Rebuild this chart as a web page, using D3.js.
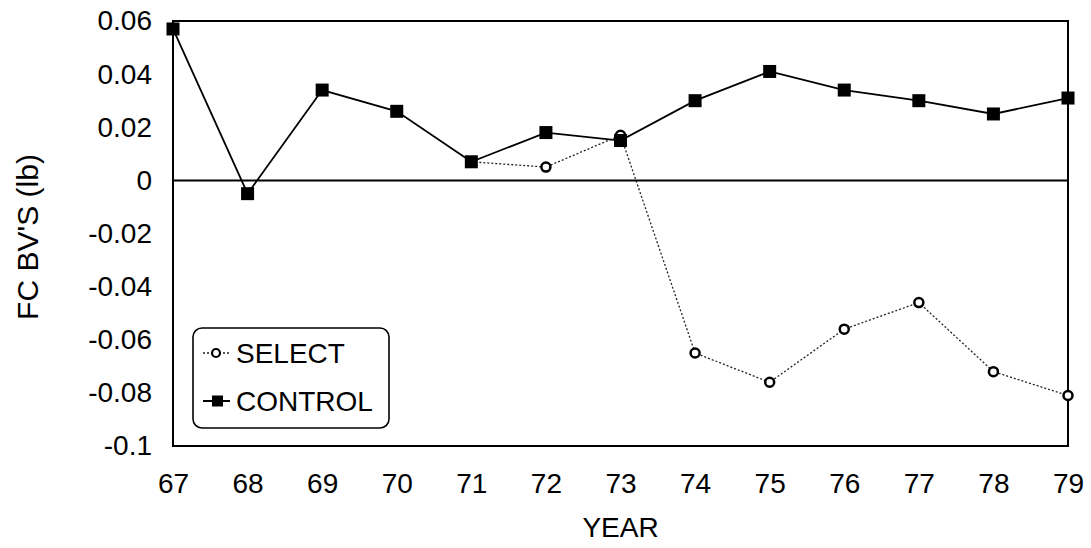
<!DOCTYPE html>
<meta charset="utf-8">
<html>
  <head>
    <title>fc bv's</title>
    <script src="https://cdn.jsdelivr.net/npm/d3@7"></script>
    <style>
      body { margin: 0; background: #fff; }
      text { font-family: "Liberation Sans", Arial, sans-serif; fill: #000; }
    </style>
  </head>
  <body>
    <div id="chart"></div>
    <script type="text/javascript">
        /* data */
        var years = [67, 68, 69, 70, 71, 72, 73, 74, 75, 76, 77, 78, 79];
        var control_values = [0.057, -0.005, 0.034, 0.026, 0.007, 0.018, 0.015, 0.030, 0.041, 0.034, 0.030, 0.025, 0.031];
        var select_years = [71, 72, 73, 74, 75, 76, 77, 78, 79];
        var select_values = [0.007, 0.005, 0.017, -0.065, -0.076, -0.056, -0.046, -0.072, -0.081];
        var y_ticks = [0.06, 0.04, 0.02, 0, -0.02, -0.04, -0.06, -0.08, -0.1];
        var series_names = ["SELECT", "CONTROL"];

        /* layout */
        var total_width = 1091, total_height = 548;
        var plot = {left: 173, right: 1068, top: 21, bottom: 446};
        var font_size = 28;

        var svg = d3.select("#chart").append("svg")
                .attr("width", total_width)
                .attr("height", total_height);

        var x_scale = d3.scaleLinear()
                .domain([67, 79])
                .range([plot.left, plot.right]);
        var y_scale = d3.scaleLinear()
                .domain([-0.1, 0.06])
                .range([plot.bottom, plot.top]);

        /* axes: labels only, no tick marks */
        var fmt = function(d){ return d === 0 ? "0" : String(+d.toFixed(2)); };

        var y_axis = svg.append("g")
                .attr("transform", "translate(" + plot.left + ",0)")
                .call(d3.axisLeft(y_scale).tickValues(y_ticks).tickFormat(fmt).tickSize(0).tickPadding(21));
        y_axis.select(".domain").remove();
        y_axis.selectAll("text").style("font-size", font_size + "px").attr("font-family", null);

        var x_axis = svg.append("g")
                .attr("transform", "translate(0," + plot.bottom + ")")
                .call(d3.axisBottom(x_scale).tickValues(years).tickFormat(d3.format("d")).tickSize(0).tickPadding(27));
        x_axis.select(".domain").remove();
        x_axis.selectAll("text").style("font-size", font_size + "px").attr("font-family", null);

        /* frame */
        svg.append("rect")
            .attr("x", plot.left)
            .attr("y", plot.top)
            .attr("width", plot.right - plot.left)
            .attr("height", plot.bottom - plot.top)
            .attr("fill", "none")
            .attr("stroke", "#000")
            .attr("stroke-width", 2);

        /* zero line */
        svg.append("line")
            .attr("x1", plot.left).attr("x2", plot.right)
            .attr("y1", y_scale(0)).attr("y2", y_scale(0))
            .attr("stroke", "#000")
            .attr("stroke-width", 2);

        /* axis titles */
        svg.append("text")
            .attr("x", (plot.left + plot.right) / 2)
            .attr("y", 537)
            .attr("text-anchor", "middle")
            .style("font-size", font_size + "px")
            .text("YEAR");

        svg.append("text")
            .attr("transform", "translate(38,237) rotate(-90)")
            .attr("text-anchor", "middle")
            .style("font-size", "30px")
            .text("FC BV'S (lb)");

        /* series */
        var control_data = years.map(function(y, i){ return {year: y, value: control_values[i]}; });
        var select_data = select_years.map(function(y, i){ return {year: y, value: select_values[i]}; });

        var line = d3.line()
            .x(function(d){ return x_scale(d.year); })
            .y(function(d){ return y_scale(d.value); });

        svg.append("path")
            .attr("d", line(select_data))
            .attr("fill", "none")
            .attr("stroke", "#222")
            .attr("stroke-width", 1.3)
            .attr("stroke-dasharray", "2,2");

        svg.append("path")
            .attr("d", line(control_data))
            .attr("fill", "none")
            .attr("stroke", "#000")
            .attr("stroke-width", 1.8);

        /* select markers sit under the control squares */
        svg.append("g").selectAll("circle")
            .data(select_data)
            .enter().append("circle")
            .attr("cx", function(d){ return x_scale(d.year); })
            .attr("cy", function(d){ return y_scale(d.value); })
            .attr("r", 4.5)
            .attr("fill", "#fff")
            .attr("stroke", "#000")
            .attr("stroke-width", 2.5);

        var sq = 13;
        svg.append("g").selectAll("rect")
            .data(control_data)
            .enter().append("rect")
            .attr("x", function(d){ return x_scale(d.year) - sq / 2; })
            .attr("y", function(d){ return y_scale(d.value) - sq / 2; })
            .attr("width", sq)
            .attr("height", sq)
            .attr("fill", "#000");

        /* legend */
        var legend = svg.append("g");
        legend.append("rect")
            .attr("x", 193).attr("y", 328)
            .attr("width", 196).attr("height", 100)
            .attr("rx", 9).attr("ry", 9)
            .attr("fill", "#fff")
            .attr("stroke", "#000")
            .attr("stroke-width", 1.6);

        var rows = [353, 401];
        legend.append("line")
            .attr("x1", 203).attr("x2", 230)
            .attr("y1", rows[0]).attr("y2", rows[0])
            .attr("stroke", "#222").attr("stroke-width", 1.3)
            .attr("stroke-dasharray", "2,2");
        legend.append("circle")
            .attr("cx", 216).attr("cy", rows[0]).attr("r", 4)
            .attr("fill", "#fff").attr("stroke", "#000").attr("stroke-width", 2.2);
        legend.append("line")
            .attr("x1", 203).attr("x2", 230)
            .attr("y1", rows[1]).attr("y2", rows[1])
            .attr("stroke", "#000").attr("stroke-width", 2);
        legend.append("rect")
            .attr("x", 212).attr("y", rows[1] - 5.5)
            .attr("width", 11).attr("height", 11)
            .attr("fill", "#000");

        legend.selectAll(".legend_text")
            .data(series_names)
            .enter().append("text")
            .attr("x", 236)
            .attr("y", function(d, i){ return rows[i] + 10; })
            .style("font-size", font_size + "px")
            .text(function(d){ return d; });
    </script>
  </body>
</html>
